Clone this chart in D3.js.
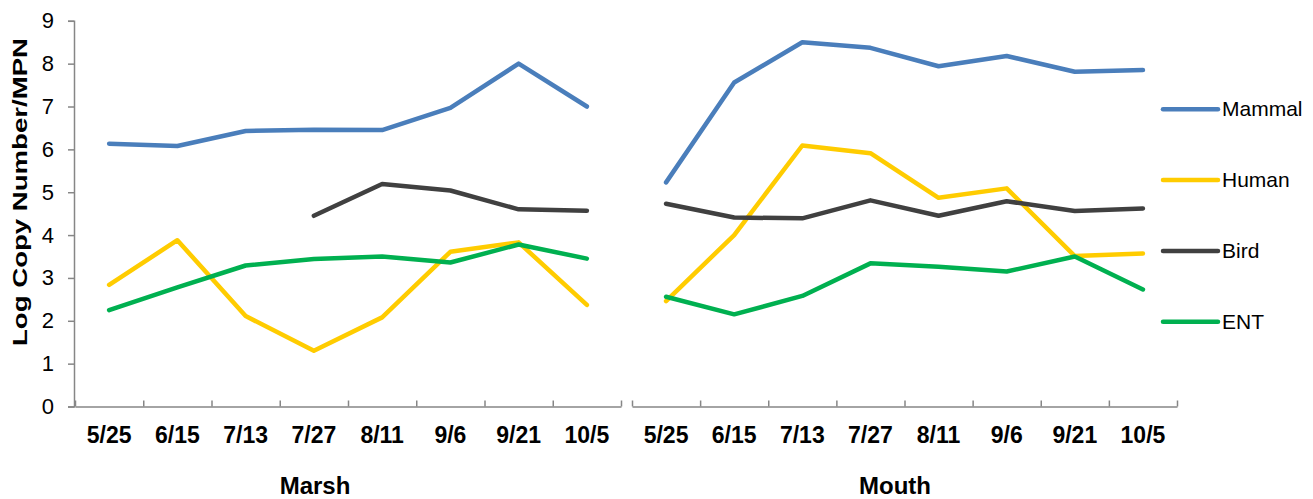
<!DOCTYPE html>
<html>
<head>
<meta charset="utf-8">
<script src="https://cdn.jsdelivr.net/npm/d3@7"></script>
<style>
  body { margin: 0; background: #fff; }
  svg { display: block; font-family: Arial, "Liberation Sans", sans-serif; }
</style>
</head>
<body>
<svg id="chart" width="1313" height="499"></svg>
<script>
var dates = ["5/25", "6/15", "7/13", "7/27", "8/11", "9/6", "9/21", "10/5"];
var sites = ["Marsh", "Mouth"];
var seriesNames = ["Mammal", "Human", "Bird", "ENT"];
var yTicks = [0, 1, 2, 3, 4, 5, 6, 7, 8, 9];

// Log copy number / MPN, per site
var marshMammal = [6.13, 6.08, 6.43, 6.46, 6.45, 6.97, 8.0, 7.0];
var marshHuman  = [2.84, 3.88, 2.11, 1.30, 2.08, 3.61, 3.83, 2.37];
var marshBird   = [null, null, null, 4.45, 5.19, 5.04, 4.60, 4.57];
var marshENT    = [2.25, 2.78, 3.29, 3.44, 3.50, 3.36, 3.78, 3.45];

var mouthMammal = [5.23, 7.56, 8.50, 8.37, 7.94, 8.18, 7.81, 7.85];
var mouthHuman  = [2.46, 4.00, 6.09, 5.91, 4.87, 5.09, 3.51, 3.57];
var mouthBird   = [4.73, 4.41, 4.39, 4.81, 4.45, 4.79, 4.56, 4.62];
var mouthENT    = [2.56, 2.15, 2.58, 3.34, 3.26, 3.15, 3.50, 2.73];

var colors = ["#4a7ebb", "#ffcc00", "#404040", "#00b050"];

var svg = d3.select("#chart");
var axisColor = "#868686";

var yScale = d3.scaleLinear().domain([0, 9]).range([406.5, 20.8]);

var panels = [
    {name: sites[0], range: [75, 621], labelX: 315, data: [marshMammal, marshHuman, marshBird, marshENT]},
    {name: sites[1], range: [632, 1177], labelX: 895, data: [mouthMammal, mouthHuman, mouthBird, mouthENT]}
];

// y axis
var yAxis = svg.append("g")
    .attr("transform", "translate(74,0)")
    .call(d3.axisLeft(yScale).tickValues(yTicks).tickSize(6).tickPadding(14).tickFormat(d3.format("d")));
yAxis.select(".domain").attr("stroke", axisColor).attr("stroke-width", 1.5);
yAxis.selectAll(".tick line").attr("stroke", axisColor).attr("stroke-width", 1.5);
yAxis.selectAll(".tick text")
    .attr("font-size", 22)
    .attr("font-family", "Arial, 'Liberation Sans', sans-serif")
    .attr("fill", "#000");

svg.append("text")
    .attr("transform", "translate(27,192) rotate(-90)")
    .attr("text-anchor", "middle")
    .attr("font-size", 21)
    .attr("font-weight", "bold")
    .attr("textLength", 308)
    .attr("lengthAdjust", "spacingAndGlyphs")
    .text("Log Copy Number/MPN");

var line = d3.line()
    .defined(function (d) { return d.v !== null; })
    .x(function (d) { return d.x; })
    .y(function (d) { return yScale(d.v); });

panels.forEach(function (p) {
    var xBand = d3.scaleBand().domain(dates).range(p.range);
    var xEdge = d3.scaleLinear().domain([0, dates.length]).range(p.range);

    // axis line with upward ticks at category boundaries
    var edgeAxis = svg.append("g")
        .attr("transform", "translate(0,406.5)")
        .call(d3.axisBottom(xEdge).tickValues(d3.range(dates.length + 1)).tickSize(-6).tickSizeOuter(0).tickFormat(""));
    edgeAxis.select(".domain").attr("stroke", axisColor).attr("stroke-width", 1.5);
    edgeAxis.selectAll(".tick line").attr("stroke", axisColor).attr("stroke-width", 1.5);

    // date labels
    var labelAxis = svg.append("g")
        .attr("transform", "translate(0,406.5)")
        .call(d3.axisBottom(xBand).tickSize(0).tickPadding(20));
    labelAxis.select(".domain").remove();
    labelAxis.selectAll(".tick text")
        .attr("font-size", 23)
        .attr("font-weight", "bold")
        .attr("font-family", "Arial, 'Liberation Sans', sans-serif")
        .attr("fill", "#000");

    svg.append("text")
        .attr("x", p.labelX)
        .attr("y", 494)
        .attr("text-anchor", "middle")
        .attr("font-size", 24)
        .attr("font-weight", "bold")
        .text(p.name);

    p.data.forEach(function (vals, i) {
        var pts = vals.map(function (v, j) {
            return {x: xBand(dates[j]) + xBand.bandwidth() / 2, v: v};
        });
        svg.append("path")
            .datum(pts)
            .attr("d", line)
            .attr("fill", "none")
            .attr("stroke", colors[i])
            .attr("stroke-width", 4.5)
            .attr("stroke-linecap", "round")
            .attr("stroke-linejoin", "round");
    });
});

// legend
var legendY = d3.scalePoint().domain(seriesNames).range([109.3, 321.7]);
var legend = svg.append("g");
seriesNames.forEach(function (name, i) {
    legend.append("line")
        .attr("x1", 1163).attr("x2", 1218)
        .attr("y1", legendY(name)).attr("y2", legendY(name))
        .attr("stroke", colors[i])
        .attr("stroke-width", 4.5)
        .attr("stroke-linecap", "round");
    legend.append("text")
        .attr("x", 1222)
        .attr("y", legendY(name) + 7)
        .attr("font-size", 21)
        .text(name);
});
</script>
</body>
</html>
